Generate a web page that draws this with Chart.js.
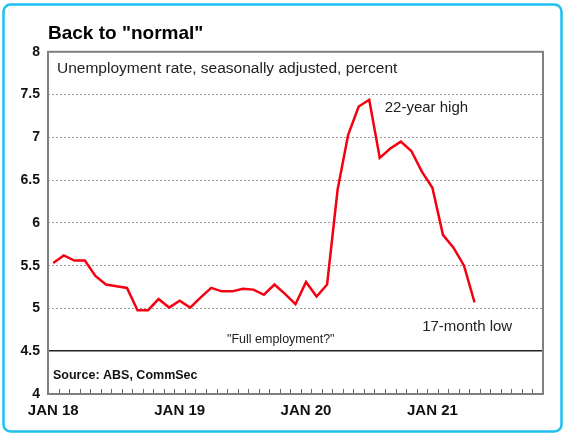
<!DOCTYPE html>
<html><head><meta charset="utf-8">
<script src="https://cdn.jsdelivr.net/npm/chart.js@4.4.1/dist/chart.umd.min.js"></script>
<style>html,body{margin:0;padding:0;background:#fff;} canvas{display:block;}</style>
</head><body>
<canvas id="c" width="567" height="435"></canvas>
<script>
// ---- data ----
const monthNames = ['JAN','FEB','MAR','APR','MAY','JUN','JUL','AUG','SEP','OCT','NOV','DEC'];
const years = ['18','19','20','21'];
const categories = [];
for (const y of years) for (const m of monthNames) categories.push(m + ' ' + y);
categories.length = 47; // axis runs Jan 2018 - Nov 2021
const tickLabels = ['JAN 18', 'JAN 19', 'JAN 20', 'JAN 21'];
const unemploymentRate = [
  5.53, 5.62, 5.56, 5.56, 5.38, 5.28, 5.26, 5.24, 4.98, 4.98, 5.11, 5.01,
  5.09, 5.01, 5.13, 5.24, 5.20, 5.20, 5.23, 5.22, 5.16, 5.28, 5.17, 5.05,
  5.31, 5.14, 5.28, 6.39, 7.03, 7.36, 7.44, 6.76, 6.87, 6.95, 6.84, 6.60,
  6.41, 5.86, 5.71, 5.50, 5.07
];
const yMin = 4, yMax = 8, yStep = 0.5;

const FONT = '"Liberation Sans", Arial, sans-serif';

const decor = {
  id: 'decor',
  afterDraw(chart) {
    const {ctx, chartArea: a, scales: {x, y}} = chart;
    ctx.save();
    // inner tick marks on x axis (month boundaries)
    ctx.strokeStyle = '#666';
    ctx.lineWidth = 1;
    ctx.beginPath();
    for (let i = 0; i <= categories.length; i++) {
      const px = Math.round(x.getPixelForValue(i - 0.5)) + 0.5;
      ctx.moveTo(px, a.bottom);
      ctx.lineTo(px, a.bottom - 5);
    }
    ctx.stroke();
    // plot box
    ctx.strokeStyle = '#808080';
    ctx.lineWidth = 2;
    ctx.strokeRect(a.left, a.top, a.right - a.left, a.bottom - a.top);
    // annotations
    ctx.fillStyle = '#222';
    ctx.textBaseline = 'middle';
    ctx.textAlign = 'left';
    ctx.font = '15.5px ' + FONT;
    ctx.fillText('Unemployment rate, seasonally adjusted, percent', a.left + 9, y.getPixelForValue(7.8));
    ctx.font = '15px ' + FONT;
    ctx.fillText('22-year high', x.getPixelForValue(31) + 5, y.getPixelForValue(7.35));
    ctx.textAlign = 'center';
    ctx.fillText('17-month low', x.getPixelForValue(39.3), y.getPixelForValue(4.78));
    ctx.font = '12.5px ' + FONT;
    ctx.fillText('"Full employment?"', x.getPixelForValue(21.6), y.getPixelForValue(4.64));
    ctx.textAlign = 'left';
    ctx.fillStyle = '#111';
    ctx.font = 'bold 12.5px ' + FONT;
    ctx.fillText('Source: ABS, CommSec', a.left + 5, y.getPixelForValue(4.22));
    // outer cyan frame
    ctx.strokeStyle = '#1EC0F2';
    ctx.lineWidth = 2.5;
    ctx.beginPath();
    if (ctx.roundRect) ctx.roundRect(3.5, 4.5, 558, 427, 7); else ctx.rect(3.5, 4.5, 558, 427);
    ctx.stroke();
    ctx.restore();
  }
};

new Chart(document.getElementById('c'), {
  type: 'line',
  data: {
    labels: categories,
    datasets: [{
      data: unemploymentRate,
      borderColor: '#F50010',
      borderWidth: 2.5,
      pointRadius: 0,
      tension: 0,
      fill: false
    }]
  },
  options: {
    responsive: false,
    animation: false,
    devicePixelRatio: 1,
    layout: { padding: { left: 8, right: 24, top: 0, bottom: 0 } },
    plugins: {
      legend: { display: false },
      tooltip: { enabled: false },
      title: {
        display: true,
        text: 'Back to "normal"',
        align: 'start',
        fullSize: false,
        color: '#000',
        font: { family: FONT, size: 19, weight: 'bold', lineHeight: 1.2 },
        padding: { top: 22, bottom: 7 }
      }
    },
    scales: {
      x: {
        type: 'category',
        offset: true,
        grid: { display: false, drawTicks: false },
        border: { display: false },
        afterFit(s) { s.height = 41; },
        ticks: {
          autoSkip: false,
          maxRotation: 0,
          padding: 8,
          color: '#111',
          font: { family: FONT, size: 15, weight: 'bold' },
          callback(v, i) {
            const lbl = categories[i];
            return tickLabels.includes(lbl) ? lbl : '';
          }
        }
      },
      y: {
        min: yMin, max: yMax,
        afterFit(s) { s.width = 40; },
        grid: {
          drawTicks: false,
          color: c => {
            const v = c.tick ? c.tick.value : null;
            if (v === 4 || v === 8) return 'rgba(0,0,0,0)';
            if (v === 4.5) return '#222';
            return '#9a9a9a';
          },
          lineWidth: c => (c.tick && c.tick.value === 4.5) ? 1.5 : 1
        },
        border: {
          display: false,
          dash: c => (c.tick && c.tick.value === 4.5) ? [] : [2, 2]
        },
        ticks: {
          stepSize: yStep,
          padding: 8,
          color: '#111',
          font: { family: FONT, size: 14, weight: 'bold' },
          callback: v => String(Number(v))
        }
      }
    }
  },
  plugins: [decor]
});
</script>
</body></html>
